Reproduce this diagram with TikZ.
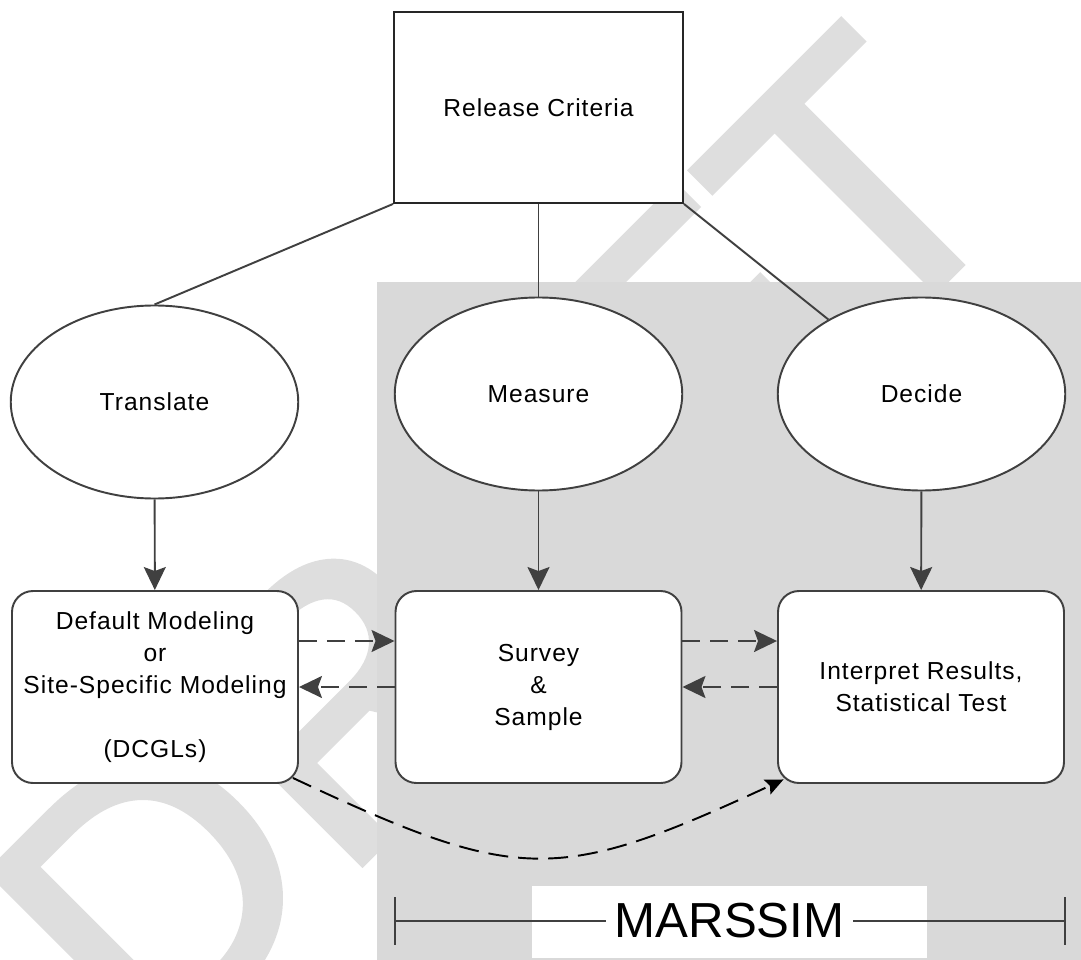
\documentclass[tikz,border=0pt]{standalone}
\usepackage{fontspec}
\setmainfont{Liberation Sans}
\newfontfamily\boxfam{Liberation Sans}[LetterSpace=4]
\newfontfamily\wmfam{Liberation Sans}[FakeBold=2]
\usetikzlibrary{arrows.meta,shapes.geometric}

\newcommand{\boxfont}{\boxfam\fontsize{14}{18.2}\selectfont}

\begin{document}
\begin{tikzpicture}[>={Stealth[length=4.6mm,width=4.4mm,inset=0.8mm]},line width=1.1pt,
  crit node/.style={rectangle,draw=black!85,fill=white,minimum width=5.78cm,minimum height=3.82cm,font=\boxfont},
  oval node/.style={ellipse,draw=black!75,fill=white,inner sep=0pt,minimum width=5.75cm,minimum height=3.86cm,font=\boxfont},
  task node/.style={rectangle,rounded corners=0.42cm,draw=black!75,fill=white,align=center,minimum width=5.72cm,minimum height=3.84cm,font=\boxfont},
  link/.style={black!75},
  flow/.style={->,black!75},
  back/.style={->,black!75,dash pattern=on 0.36cm off 0.2cm},
  skip/.style={->,black,dash pattern=on 0.4cm off 0.2cm,>={Stealth[length=3.6mm,width=3.2mm,inset=0.6mm]}}]

  \useasboundingbox (0,0) rectangle (21.62,-19.2);

  % watermark and shaded part
  \begin{scope}
    \clip (0,0) rectangle (21.62,-19.2);
    \node[rotate=45,text=black!13,inner sep=0pt,font=\wmfam\fontsize{212}{212}\selectfont] (wm) at (9.98,-10.9) {DRAFT};
  \end{scope}
  \fill[black!15] (7.54,-5.64) rectangle (21.62,-19.2);

  \node[crit node] (rc) at (10.77,-2.15) {Release Criteria};
  \node[oval node] (me) [below of=rc,node distance=5.73cm] {Measure};
  \node[oval node] (tr) [left of=me,node distance=7.68cm,yshift=-0.16cm] {Translate};
  \node[oval node] (de) [right of=me,node distance=7.66cm] {Decide};
  \node[task node] (ss) [below of=me,node distance=5.86cm] {Survey\\\&\\Sample};
  \node[task node] (dm) [left of=ss,node distance=7.67cm] {Default Modeling\\or\\Site-Specific Modeling\\[18.2pt](DCGLs)};
  \node[task node] (ir) [right of=ss,node distance=7.65cm] {Interpret Results,\\Statistical Test};

  \path[link]
    (rc.south west) edge (tr.north)
    (rc.south) edge (me.north)
    (rc.south east) edge (de);

  \path[flow]
    (tr) edge (dm)
    (me) edge (ss)
    (de) edge (ir);

  \path[back]
    ([yshift=0.92cm]dm.east) edge ([yshift=0.92cm]ss.west)
    (ss.west) edge (dm.east)
    ([yshift=0.92cm]ss.east) edge ([yshift=0.92cm]ir.west)
    (ir.west) edge (ss.east);

  \draw[skip] ([xshift=-0.12cm,yshift=0.12cm]dm.south east) to[bend right=25,looseness=1.3] ([xshift=0.13cm,yshift=0.09cm]ir.south west);

  % MARSSIM span
  \node[fill=white,minimum width=7.9cm,minimum height=1.44cm] (msbg) at (14.59,-18.44) {};
  \node[inner sep=0pt,inner xsep=4.5pt,font=\fontsize{28}{28}\selectfont] (ms) at (14.59,-18.42) {MARSSIM};
  \coordinate (ml) at (7.9,-18.42);
  \coordinate (mr) at (21.3,-18.42);
  \draw[black!75] (ml) -- (ms.west);
  \draw[black!75] (ms.east) -- (mr);
  \draw[black!75] ([yshift=0.48cm]ml) -- ([yshift=-0.48cm]ml);
  \draw[black!75] ([yshift=0.48cm]mr) -- ([yshift=-0.48cm]mr);

\end{tikzpicture}
\end{document}
